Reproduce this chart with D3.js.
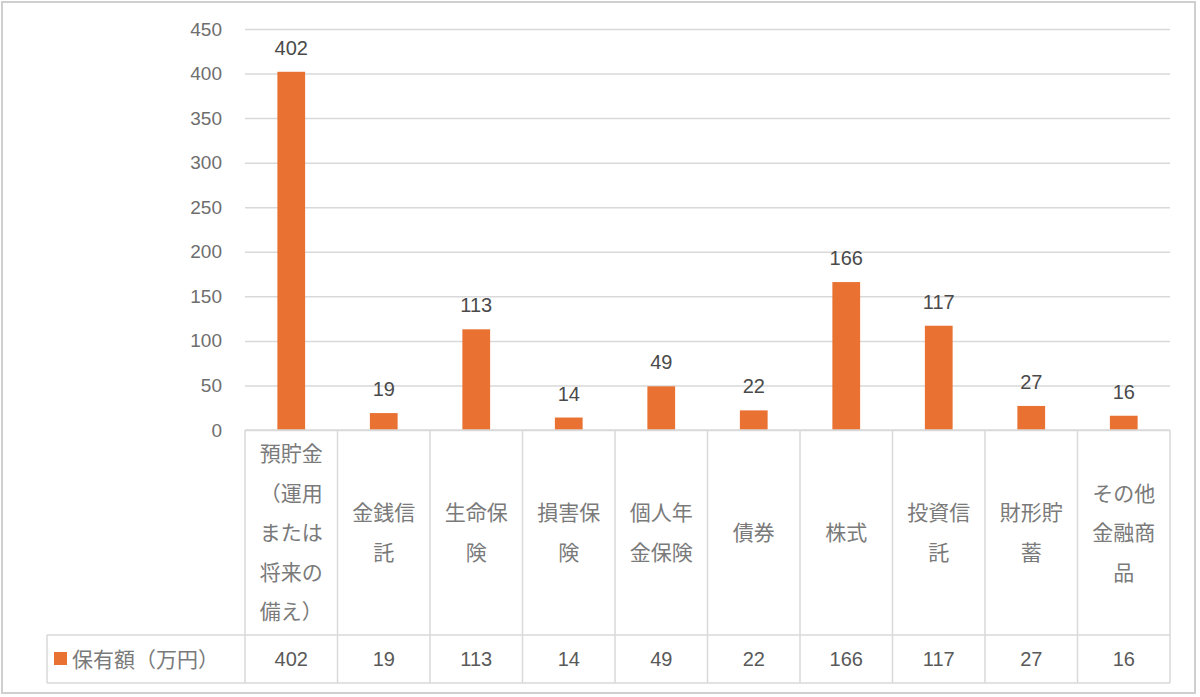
<!DOCTYPE html>
<html lang="ja">
<head>
  <meta charset="UTF-8">
  <title>保有額</title>
  <script src="https://d3js.org/d3.v7.min.js"></script>
  <style>
    body { margin: 0; background: #fff; }
    text { font-family: "Noto Sans CJK JP", "Noto Sans", sans-serif; }
  </style>
</head>
<body>
  <svg width="1200" height="697" id="chart"></svg>

  <script>
    const categories = ['預貯金（運用または将来の備え）', '金銭信託', '生命保険', '損害保険', '個人年金保険',
      '債券', '株式', '投資信託', '財形貯蓄', 'その他金融商品'];
    const values = [402, 19, 113, 14, 49, 22, 166, 117, 27, 16];
    const yTicks = [0, 50, 100, 150, 200, 250, 300, 350, 400, 450];
    const seriesName = '保有額（万円）';

    const svg = d3.select('#chart');
    const plot = { left: 245, right: 1170, top: 29, bottom: 430 };
    const table = { left: 47, catBottom: 635, valBottom: 683 };
    const gridColor = '#d9d9d9';
    const textColor = '#595959';
    const barColor = '#e97132';
    const numFont = '"Liberation Sans", Arial, sans-serif';

    // 外枠
    svg.append('rect')
      .attr('x', 2).attr('y', 2).attr('width', 1193).attr('height', 691)
      .attr('fill', 'none').attr('stroke', '#cfcfcf').attr('stroke-width', 2);

    const xScale = d3.scaleBand()
      .domain(categories)
      .range([plot.left, plot.right]);

    const yScale = d3.scaleLinear()
      .domain([0, 450])
      .range([plot.bottom, plot.top]);

    // 目盛と横線
    const yAxis = d3.axisLeft(yScale)
      .tickValues(yTicks)
      .tickSize(-(plot.right - plot.left))
      .tickPadding(23);
    const ag = svg.append('g')
      .attr('transform', `translate(${plot.left},0)`)
      .call(yAxis);
    ag.select('.domain').remove();
    ag.selectAll('.tick line').attr('stroke', gridColor).attr('stroke-width', 1.5);
    ag.selectAll('.tick text')
      .attr('fill', '#6e6e6e')
      .attr('font-size', '19px')
      .style('font-family', numFont);

    // 棒
    const barW = xScale.bandwidth() * 0.3;
    svg.append('g').selectAll('rect')
      .data(categories)
      .join('rect')
      .attr('x', d => xScale(d) + (xScale.bandwidth() - barW) / 2)
      .attr('y', (d, i) => yScale(values[i]))
      .attr('width', barW)
      .attr('height', (d, i) => yScale(0) - yScale(values[i]))
      .attr('fill', barColor);

    // データラベル
    svg.append('g').selectAll('text')
      .data(categories)
      .join('text')
      .attr('x', d => xScale(d) + xScale.bandwidth() / 2)
      .attr('y', (d, i) => yScale(values[i]) - 17)
      .attr('text-anchor', 'middle')
      .attr('fill', '#4a4a4a')
      .attr('font-size', '20px')
      .style('font-family', numFont)
      .text((d, i) => values[i]);

    // データテーブルの罫線
    const lines = svg.append('g')
      .attr('stroke', gridColor).attr('stroke-width', 1.5);
    lines.append('line')
      .attr('x1', plot.left).attr('x2', plot.right)
      .attr('y1', plot.bottom).attr('y2', plot.bottom);
    [table.catBottom, table.valBottom].forEach(y => {
      lines.append('line')
        .attr('x1', table.left).attr('x2', plot.right)
        .attr('y1', y).attr('y2', y);
    });
    lines.append('line')
      .attr('x1', table.left).attr('x2', table.left)
      .attr('y1', table.catBottom).attr('y2', table.valBottom);
    categories.concat([null]).forEach(d => {
      const x = d === null ? plot.right : xScale(d);
      lines.append('line')
        .attr('x1', x).attr('x2', x)
        .attr('y1', plot.bottom).attr('y2', table.valBottom);
    });

    // 項目名（3文字ずつ折り返し）
    const lineH = 39.5;
    const catMid = (plot.bottom + table.catBottom) / 2;
    categories.forEach(c => {
      const parts = c.match(/.{1,3}/g);
      const t = svg.append('text')
        .attr('text-anchor', 'middle')
        .attr('fill', '#7a7a7a')
        .attr('font-size', '21px');
      parts.forEach((p, j) => {
        t.append('tspan')
          .attr('x', xScale(c) + xScale.bandwidth() / 2)
          .attr('y', catMid + (j - (parts.length - 1) / 2) * lineH)
          .attr('dy', '0.36em')
          .text(p);
      });
    });

    // 値の行
    const valMid = (table.catBottom + table.valBottom) / 2;
    svg.append('g').selectAll('text')
      .data(categories)
      .join('text')
      .attr('x', d => xScale(d) + xScale.bandwidth() / 2)
      .attr('y', valMid)
      .attr('dy', '0.36em')
      .attr('text-anchor', 'middle')
      .attr('fill', textColor)
      .attr('font-size', '20px')
      .style('font-family', numFont)
      .text((d, i) => values[i]);

    // 凡例
    svg.append('rect')
      .attr('x', 54).attr('y', valMid - 7)
      .attr('width', 13).attr('height', 13)
      .attr('fill', barColor);
    svg.append('text')
      .attr('x', 72).attr('y', valMid)
      .attr('dy', '0.36em')
      .attr('fill', '#7a7a7a')
      .attr('font-size', '21px')
      .text(seriesName);
  </script>
</body>
</html>
